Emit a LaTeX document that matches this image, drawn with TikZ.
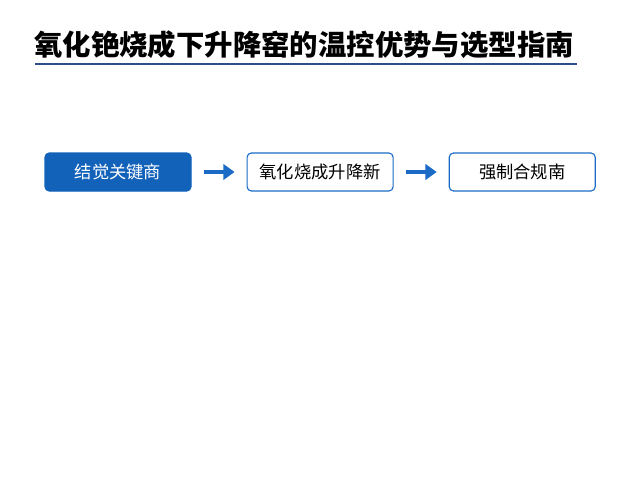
\documentclass[tikz,border=0pt]{standalone}
\usepackage{fontspec}
\setmainfont{Noto Sans CJK SC}
\usepackage{tikz}
\usetikzlibrary{positioning}
\usetikzlibrary{arrows.meta}
\definecolor{stepblue}{HTML}{1262BA}
\definecolor{arrowblue}{HTML}{1B6BC6}
\definecolor{ruleblue}{HTML}{2C4C8C}
\tikzset{
  darkbox/.style={draw=stepblue, fill=stepblue, text=white, rounded corners=3pt, line width=0.8pt, minimum width=3.65cm, minimum height=0.95cm, font=\fontsize{12.3}{14}\selectfont},
  lightbox/.style={draw=arrowblue, fill=white, text=black, rounded corners=3pt, line width=0.8pt, minimum width=3.65cm, minimum height=0.95cm, font=\fontsize{12.3}{14}\selectfont},
  flowarrow/.style={draw=arrowblue, line width=3pt, -{Triangle[length=8pt,width=11pt]}, shorten <=0.32cm, shorten >=0.3cm}
}
\begin{document}
\begin{tikzpicture}
\useasboundingbox (0,0) rectangle (16,12);
% title and rule
\node[anchor=west, inner sep=0pt, font=\fontsize{20.2}{24}\selectfont\bfseries] (title) at (0.85,10.875) {氧化铯烧成下升降窑的温控优势与选型指南};
\coordinate (ruleL) at (0.875,10.4);
\coordinate (ruleR) at (14.425,10.4);
\draw[ruleblue, line width=0.9pt] (ruleL) -- (ruleR);
% row of steps
\node[darkbox] (key) at (2.95,7.7) {结觉关键商};
\node[lightbox, right=1.375cm of key] (trend) {氧化烧成升降新};
\node[lightbox, right=1.375cm of trend] (rule) {强制合规南};
% arrows
\draw[flowarrow] (key) -- (trend);
\draw[flowarrow] (trend) -- (rule);
\end{tikzpicture}
\end{document}
